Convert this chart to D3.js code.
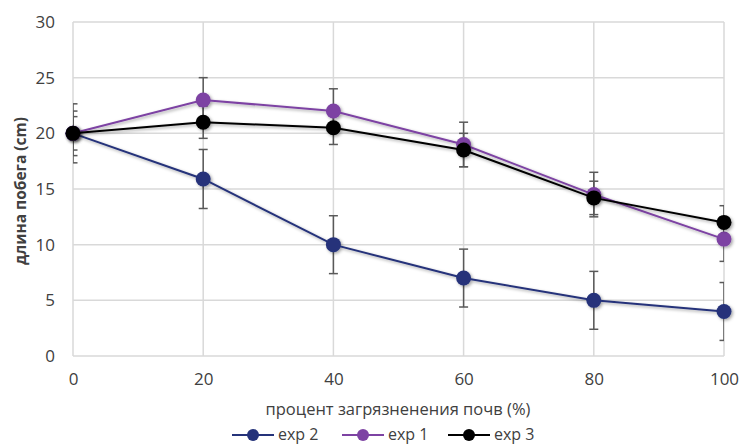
<!DOCTYPE html>
<html><head><meta charset="utf-8">
<script src="https://cdn.jsdelivr.net/npm/d3@7"></script>
<style>body{margin:0;background:#fff}svg{display:block;font-family:"Open Sans",sans-serif}</style>
</head><body><svg id="c" width="741" height="444"></svg>
<script>
const xValues = [0, 20, 40, 60, 80, 100];
const yTicks = [0, 5, 10, 15, 20, 25, 30];
const seriesNames = ["exp 2", "exp 1", "exp 3"];
const exp2 = [20, 15.9, 10, 7, 5, 4];
const exp1 = [20, 23, 22, 19, 14.5, 10.5];
const exp3 = [20, 21, 20.5, 18.5, 14.2, 12];
const exp2Err = [2.65, 2.65, 2.6, 2.6, 2.6, 2.6];
const exp1Err = [2.0, 2.0, 2.0, 2.0, 2.0, 2.0];
const exp3Err = [1.5, 1.45, 1.5, 1.5, 1.5, 1.5];
const colors = ["#25337A", "#7D43A3", "#000000"];
const xTitle = "процент загрязненения почв (%)";
const yTitle = "длина побега (cm)";

const series = [
  {name: seriesNames[0], values: exp2, err: exp2Err, color: colors[0]},
  {name: seriesNames[1], values: exp1, err: exp1Err, color: colors[1]},
  {name: seriesNames[2], values: exp3, err: exp3Err, color: colors[2]}
];

const svg = d3.select("#c");
const x = d3.scaleLinear().domain([0, 100]).range([73, 724]);
const y = d3.scaleLinear().domain([0, 30]).range([356, 22]);

const defs = svg.append("defs");
const f = defs.append("filter").attr("id","sh").attr("x","-20%").attr("y","-20%").attr("width","140%").attr("height","140%");
f.append("feDropShadow").attr("dx",1.5).attr("dy",1.5).attr("stdDeviation",1.5).attr("flood-color","#000").attr("flood-opacity",0.35);
defs.append("clipPath").attr("id","pc").append("rect")
  .attr("x", x(0)).attr("y", y(30)-2).attr("width", x(100)-x(0)).attr("height", y(0)-y(30)+4);

// grid
const g = svg.append("g");
g.selectAll("line.h").data(yTicks).join("line")
  .attr("x1", x(0)).attr("x2", x(100)).attr("y1", d=>y(d)).attr("y2", d=>y(d))
  .attr("stroke","#d9d9d9").attr("stroke-width",1.5);
g.selectAll("line.v").data(xValues).join("line")
  .attr("y1", y(0)).attr("y2", y(30)).attr("x1", d=>x(d)).attr("x2", d=>x(d))
  .attr("stroke","#d9d9d9").attr("stroke-width",1.5);

// axes labels via d3 axes
const yAxis = svg.append("g").attr("transform",`translate(${x(0)},0)`)
  .call(d3.axisLeft(y).tickValues(yTicks).tickSize(0).tickPadding(18));
yAxis.select(".domain").remove();
yAxis.selectAll("text").attr("font-size",17).attr("fill","#404040").attr("font-family","'Open Sans',sans-serif");

const xAxis = svg.append("g").attr("transform",`translate(0,${y(0)})`)
  .call(d3.axisBottom(x).tickValues(xValues).tickSize(0).tickPadding(17));
xAxis.select(".domain").remove();
xAxis.selectAll("text").attr("font-size",17).attr("fill","#404040").attr("font-family","'Open Sans',sans-serif");

svg.append("text").attr("x", 398).attr("y", 415).attr("text-anchor","middle")
  .attr("font-size",16.5).attr("fill","#404040").text(xTitle);
svg.append("text").attr("transform","translate(26,191) rotate(-90)").attr("text-anchor","middle")
  .attr("font-size",15.5).attr("font-weight","bold").attr("fill","#404040").text(yTitle);

// error bars
const eb = svg.append("g").attr("clip-path","url(#pc)");
series.forEach(s => {
  xValues.forEach((xv,i) => {
    const cx = x(xv), top = y(s.values[i]+s.err[i]), bot = y(s.values[i]-s.err[i]);
    eb.append("line").attr("x1",cx).attr("x2",cx).attr("y1",top).attr("y2",bot)
      .attr("stroke","#595959").attr("stroke-width",1.5);
    [top,bot].forEach(yy => eb.append("line").attr("x1",cx-4.5).attr("x2",cx+4.5).attr("y1",yy).attr("y2",yy)
      .attr("stroke","#595959").attr("stroke-width",1.5));
  });
});

// series
const line = d3.line().x((d,i)=>x(xValues[i])).y(d=>y(d));
series.forEach(s => {
  const sg = svg.append("g").attr("filter","url(#sh)");
  sg.append("path").attr("d", line(s.values)).attr("fill","none").attr("stroke", s.color).attr("stroke-width",2);
  sg.selectAll("circle").data(s.values).join("circle")
    .attr("cx",(d,i)=>x(xValues[i])).attr("cy",d=>y(d)).attr("r",7.5).attr("fill",s.color);
});

// legend
const legX = [232, 342, 448];
const leg = svg.append("g");
series.forEach((s,i) => {
  const lx = legX[i], ly = 435;
  leg.append("line").attr("x1",lx).attr("x2",lx+42).attr("y1",ly).attr("y2",ly).attr("stroke",s.color).attr("stroke-width",2);
  leg.append("circle").attr("cx",lx+21).attr("cy",ly).attr("r",6).attr("fill",s.color);
  leg.append("text").attr("x",lx+46).attr("y",ly+5).attr("font-size",16).attr("fill","#404040").text(s.name);
});
</script></body></html>
